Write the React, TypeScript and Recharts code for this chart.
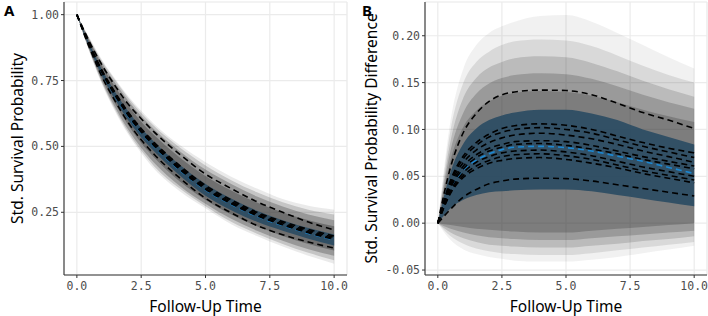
import { Area, CartesianGrid, ComposedChart, Line, XAxis, YAxis } from 'recharts';

// Shared follow-up grid and x breaks
const time = [0, 0.5, 1, 1.5, 2, 2.5, 3, 4, 5, 6, 7, 8, 9, 10];
const xTicks = [0, 2.5, 5, 7.5, 10];
const xMinor = [1.25, 3.75, 6.25, 8.75];

// Panel A: standardised survival probability
const survTicks = [0.25, 0.5, 0.75, 1];
const survMinor = [0.125, 0.375, 0.625, 0.875];
const survMain = [1.0, 0.88, 0.775, 0.69, 0.615, 0.552, 0.5, 0.41, 0.335, 0.28, 0.235, 0.2, 0.17, 0.145];
const survBlueLo = [1.0, 0.872, 0.763, 0.675, 0.598, 0.534, 0.482, 0.39, 0.313, 0.258, 0.214, 0.18, 0.15, 0.124];
const survBlueHi = [1.0, 0.888, 0.787, 0.705, 0.632, 0.57, 0.518, 0.43, 0.357, 0.302, 0.256, 0.22, 0.19, 0.166];
const survGreyLo = [
  [1.0, 0.855, 0.73, 0.63, 0.545, 0.475, 0.415, 0.33, 0.265, 0.205, 0.16, 0.12, 0.085, 0.055],
  [1.0, 0.858, 0.736, 0.637, 0.553, 0.484, 0.425, 0.34, 0.273, 0.214, 0.169, 0.13, 0.096, 0.068],
  [1.0, 0.861, 0.742, 0.646, 0.563, 0.495, 0.438, 0.35, 0.282, 0.225, 0.18, 0.142, 0.11, 0.085],
  [1.0, 0.866, 0.752, 0.66, 0.58, 0.513, 0.458, 0.367, 0.297, 0.242, 0.197, 0.16, 0.13, 0.105],
];
const survGreyHi = [
  [1.0, 0.91, 0.825, 0.755, 0.69, 0.635, 0.585, 0.505, 0.44, 0.385, 0.34, 0.3, 0.275, 0.26],
  [1.0, 0.907, 0.82, 0.75, 0.684, 0.627, 0.577, 0.496, 0.428, 0.372, 0.326, 0.288, 0.26, 0.242],
  [1.0, 0.903, 0.813, 0.74, 0.673, 0.615, 0.565, 0.482, 0.412, 0.357, 0.31, 0.272, 0.242, 0.22],
  [1.0, 0.898, 0.802, 0.724, 0.654, 0.594, 0.543, 0.458, 0.388, 0.333, 0.287, 0.25, 0.22, 0.197],
];
const survDashed = [
  [1.0, 0.895, 0.805, 0.728, 0.66, 0.605, 0.555, 0.47, 0.395, 0.34, 0.29, 0.25, 0.213, 0.183],
  [1.0, 0.885, 0.785, 0.703, 0.63, 0.568, 0.516, 0.427, 0.352, 0.297, 0.25, 0.215, 0.185, 0.16],
  [1.0, 0.883, 0.781, 0.698, 0.625, 0.562, 0.51, 0.421, 0.346, 0.291, 0.245, 0.21, 0.18, 0.155],
  [1.0, 0.882, 0.778, 0.694, 0.62, 0.557, 0.505, 0.416, 0.341, 0.286, 0.24, 0.205, 0.175, 0.15],
  [1.0, 0.881, 0.776, 0.691, 0.617, 0.554, 0.502, 0.412, 0.337, 0.282, 0.237, 0.202, 0.172, 0.147],
  [1.0, 0.872, 0.76, 0.67, 0.59, 0.525, 0.47, 0.38, 0.303, 0.248, 0.2, 0.165, 0.137, 0.114],
];

// Panel B: standardised survival probability difference
const diffTicks = [-0.05, 0, 0.05, 0.1, 0.15, 0.2];
const diffMinor = [-0.025, 0.025, 0.075, 0.125, 0.175, 0.225];
const diffMain = [0, 0.037, 0.057, 0.067, 0.074, 0.0785, 0.081, 0.082, 0.0805, 0.077, 0.0715, 0.066, 0.0595, 0.053];
const diffBlueLo = [0, 0.016, 0.025, 0.03, 0.033, 0.034, 0.035, 0.036, 0.036, 0.034, 0.03, 0.026, 0.022, 0.018];
const diffBlueHi = [0, 0.055, 0.085, 0.101, 0.11, 0.115, 0.118, 0.121, 0.121, 0.117, 0.11, 0.1, 0.092, 0.084];
const diffGreyLo = [
  [0, -0.018, -0.028, -0.033, -0.036, -0.038, -0.04, -0.041, -0.041, -0.039, -0.036, -0.032, -0.028, -0.024],
  [0, -0.014, -0.022, -0.027, -0.03, -0.032, -0.033, -0.034, -0.034, -0.032, -0.029, -0.026, -0.023, -0.02],
  [0, -0.01, -0.016, -0.02, -0.023, -0.024, -0.025, -0.026, -0.026, -0.024, -0.022, -0.019, -0.017, -0.014],
  [0, -0.006, -0.01, -0.013, -0.015, -0.016, -0.017, -0.018, -0.018, -0.016, -0.014, -0.012, -0.01, -0.008],
  [0, -0.002, -0.004, -0.006, -0.007, -0.008, -0.009, -0.01, -0.01, -0.008, -0.006, -0.004, -0.002, 0.0],
];
const diffGreyHi = [
  [0, 0.11, 0.165, 0.19, 0.203, 0.21, 0.215, 0.221, 0.222, 0.215, 0.203, 0.19, 0.177, 0.165],
  [0, 0.1, 0.15, 0.172, 0.183, 0.19, 0.194, 0.196, 0.195, 0.189, 0.179, 0.168, 0.158, 0.15],
  [0, 0.088, 0.134, 0.155, 0.166, 0.172, 0.176, 0.178, 0.177, 0.171, 0.162, 0.152, 0.143, 0.135],
  [0, 0.078, 0.118, 0.138, 0.149, 0.155, 0.158, 0.16, 0.159, 0.154, 0.146, 0.137, 0.129, 0.122],
  [0, 0.068, 0.103, 0.12, 0.13, 0.136, 0.139, 0.141, 0.14, 0.136, 0.129, 0.121, 0.114, 0.108],
];
const diffDashed = [
  [0, 0.06, 0.097, 0.117, 0.13, 0.137, 0.14, 0.142, 0.1415, 0.137, 0.128, 0.118, 0.11, 0.101],
  [0, 0.046, 0.072, 0.086, 0.095, 0.101, 0.104, 0.106, 0.1045, 0.1, 0.093, 0.086, 0.08, 0.075],
  [0, 0.044, 0.069, 0.083, 0.092, 0.097, 0.1, 0.102, 0.1, 0.096, 0.089, 0.082, 0.076, 0.07],
  [0, 0.042, 0.065, 0.078, 0.086, 0.091, 0.094, 0.096, 0.094, 0.09, 0.084, 0.077, 0.071, 0.065],
  [0, 0.04, 0.061, 0.073, 0.08, 0.084, 0.087, 0.088, 0.087, 0.083, 0.077, 0.071, 0.066, 0.061],
  [0, 0.038, 0.058, 0.07, 0.077, 0.081, 0.084, 0.085, 0.083, 0.079, 0.074, 0.068, 0.063, 0.058],
  [0, 0.035, 0.054, 0.065, 0.071, 0.075, 0.077, 0.078, 0.076, 0.072, 0.066, 0.06, 0.055, 0.05],
  [0, 0.033, 0.051, 0.061, 0.067, 0.071, 0.073, 0.074, 0.072, 0.068, 0.062, 0.056, 0.051, 0.046],
  [0, 0.032, 0.049, 0.058, 0.064, 0.067, 0.069, 0.07, 0.068, 0.064, 0.059, 0.053, 0.048, 0.043],
  [0, 0.015, 0.028, 0.036, 0.042, 0.045, 0.047, 0.048, 0.0475, 0.045, 0.041, 0.037, 0.033, 0.029],
];

const SURV_GREY_OPACITY = [0.1, 0.2, 0.3, 0.4];
const DIFF_GREY_OPACITY = [0.07, 0.12, 0.18, 0.24, 0.28];
const BLUE_BAND = '#284a62';
const BLUE_LINE = '#1b87d2';
const FRAME = '#333333';
const TEXT_FONT = '"Noto Sans", sans-serif';
const TICK_FONT = '"DejaVu Sans Mono", monospace';

interface PanelProps {
  main: number[];
  blueLo: number[];
  blueHi: number[];
  greyLo: number[][];
  greyHi: number[][];
  greyOpacity: number[];
  dashed: number[][];
  yTicks: number[];
  yMinor: number[];
  yDomain: [number, number];
  yAxisWidth: number;
  rightMargin: number;
}

function Panel({
  main,
  blueLo,
  blueHi,
  greyLo,
  greyHi,
  greyOpacity,
  dashed,
  yTicks,
  yMinor,
  yDomain,
  yAxisWidth,
  rightMargin,
}: PanelProps) {
  const rows = time.map((t, i) => {
    const row: Record<string, number | number[]> = {
      t,
      main: main[i],
      blue: [blueLo[i], blueHi[i]],
    };
    greyLo.forEach((lo, k) => {
      row[`g${k}`] = [lo[i], greyHi[k][i]];
    });
    dashed.forEach((d, k) => {
      row[`d${k}`] = d[i];
    });
    return row;
  });

  const tick = { fill: '#4d4d4d', fontSize: 11.5, fontFamily: TICK_FONT };
  const frameLine = { stroke: FRAME, strokeWidth: 1.1 };

  return (
    <ComposedChart
      width={354}
      height={316}
      data={rows}
      margin={{ top: 2, right: rightMargin, bottom: 0, left: 0 }}
    >
      {/* top / right axes carry the minor breaks and close the panel frame */}
      <XAxis
        xAxisId="minor"
        orientation="top"
        dataKey="t"
        type="number"
        domain={[-0.5, 10.5]}
        ticks={xMinor}
        height={0}
        tick={false}
        tickLine={false}
        axisLine={frameLine}
        allowDataOverflow
      />
      <YAxis
        yAxisId="minor"
        orientation="right"
        type="number"
        domain={yDomain}
        ticks={yMinor}
        width={0}
        tick={false}
        tickLine={false}
        axisLine={frameLine}
        allowDataOverflow
      />
      <CartesianGrid xAxisId="minor" yAxisId="minor" stroke="#f0f0f0" strokeWidth={0.6} />
      <CartesianGrid stroke="#ebebeb" strokeWidth={1.2} />
      <XAxis
        dataKey="t"
        type="number"
        domain={[-0.5, 10.5]}
        ticks={xTicks}
        tickFormatter={(v: number) => v.toFixed(1)}
        axisLine={frameLine}
        tickLine={{ stroke: FRAME }}
        tickSize={3}
        tickMargin={4}
        tick={tick}
        height={41}
        allowDataOverflow
      />
      <YAxis
        type="number"
        domain={yDomain}
        ticks={yTicks}
        tickFormatter={(v: number) => v.toFixed(2)}
        axisLine={frameLine}
        tickLine={{ stroke: FRAME }}
        tickSize={3}
        tickMargin={2}
        tick={tick}
        width={yAxisWidth}
        allowDataOverflow
      />
      {greyLo.map((_, k) => (
        <Area
          key={`g${k}`}
          dataKey={`g${k}`}
          type="monotone"
          stroke="none"
          fill="#333333"
          fillOpacity={greyOpacity[k]}
          dot={false}
          activeDot={false}
          isAnimationActive={false}
        />
      ))}
      <Area
        dataKey="blue"
        type="monotone"
        stroke="none"
        fill={BLUE_BAND}
        fillOpacity={0.88}
        dot={false}
        activeDot={false}
        isAnimationActive={false}
      />
      <Line
        dataKey="main"
        type="monotone"
        stroke={BLUE_LINE}
        strokeWidth={1.6}
        strokeDasharray="6 4"
        dot={false}
        activeDot={false}
        isAnimationActive={false}
      />
      {dashed.map((_, k) => (
        <Line
          key={`d${k}`}
          dataKey={`d${k}`}
          type="monotone"
          stroke="#000000"
          strokeWidth={1.6}
          strokeDasharray="6 4"
          dot={false}
          activeDot={false}
          isAnimationActive={false}
        />
      ))}
    </ComposedChart>
  );
}

export default function App() {
  return (
    <div style={{ position: 'absolute', left: 0, top: 0, width: 708, height: 316, background: '#fff' }}>
      <div style={{ position: 'absolute', left: 0, top: 0 }}>
        <Panel
          main={survMain}
          blueLo={survBlueLo}
          blueHi={survBlueHi}
          greyLo={survGreyLo}
          greyHi={survGreyHi}
          greyOpacity={SURV_GREY_OPACITY}
          dashed={survDashed}
          yTicks={survTicks}
          yMinor={survMinor}
          yDomain={[0.012, 1.048]}
          yAxisWidth={64}
          rightMargin={7}
        />
      </div>
      <div style={{ position: 'absolute', left: 354, top: 0 }}>
        <Panel
          main={diffMain}
          blueLo={diffBlueLo}
          blueHi={diffBlueHi}
          greyLo={diffGreyLo}
          greyHi={diffGreyHi}
          greyOpacity={DIFF_GREY_OPACITY}
          dashed={diffDashed}
          yTicks={diffTicks}
          yMinor={diffMinor}
          yDomain={[-0.0553, 0.236]}
          yAxisWidth={71}
          rightMargin={1}
        />
      </div>
      {/* axis titles and panel tags */}
      <svg
        width={708}
        height={316}
        style={{ position: 'absolute', left: 0, top: 0, zIndex: 2, pointerEvents: 'none' }}
      >
        <g fontFamily={TEXT_FONT} fontSize={15.5} fill="#000">
          <text x={205.5} y={311.5} textAnchor="middle">Follow-Up Time</text>
          <text x={566} y={311.5} textAnchor="middle">Follow-Up Time</text>
          <text transform="translate(22.5,138.5) rotate(-90)" textAnchor="middle">
            Std. Survival Probability
          </text>
          <text transform="translate(377,138.5) rotate(-90)" textAnchor="middle">
            Std. Survival Probability Difference
          </text>
        </g>
        <g fontFamily={TEXT_FONT} fontSize={15} fontWeight="bold" fill="#000">
          <text x={4} y={16}>A</text>
          <text x={362} y={16}>B</text>
        </g>
      </svg>
    </div>
  );
}
